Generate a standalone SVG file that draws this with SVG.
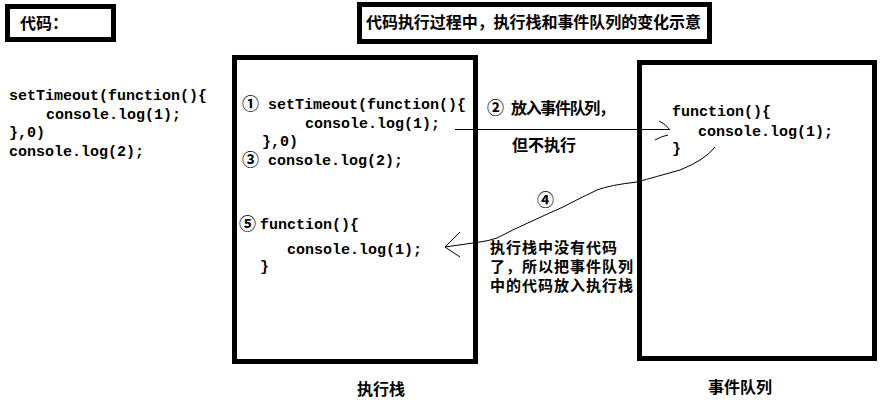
<svg xmlns="http://www.w3.org/2000/svg" width="893" height="410" viewBox="0 0 893 410">
<style>
.box{fill:none;stroke:#000;stroke-width:5}
.code{font-family:"Liberation Mono","Noto Sans CJK SC",monospace;font-size:15px;font-weight:bold;fill:#000}
.cn{font-family:"Noto Sans CJK SC","Noto Sans",sans-serif;font-size:16px;font-weight:bold;fill:#000}
.cn15{font-family:"Noto Sans CJK SC","Noto Sans",sans-serif;font-size:15px;font-weight:bold;fill:#000}
.num{font-family:"Noto Sans CJK SC","DejaVu Sans",sans-serif;font-size:17px;font-weight:bold;fill:#000}
.line{fill:none;stroke:#000;stroke-width:1}
</style>
<rect width="893" height="410" fill="#fff"/>
<g id="code-label">
<rect class="box" x="7.5" y="6.5" width="106" height="33"/>
<text class="cn" x="20" y="29">代码：</text>
</g>
<g id="title">
<rect class="box" x="359.5" y="4.5" width="350" height="37"/>
<text class="cn" x="366" y="28" textLength="335">代码执行过程中，执行栈和事件队列的变化示意</text>
</g>
<g id="source-code">
<text class="code" x="9" y="100">setTimeout(function(){</text>
<text class="code" x="46" y="119">console.log(1);</text>
<text class="code" x="9" y="137">},0)</text>
<text class="code" x="9" y="156">console.log(2);</text>
</g>
<g id="stack">
<rect class="box" x="234.5" y="57.5" width="241" height="304"/>
<text class="num" x="242" y="110">①</text>
<text class="code" x="268" y="109">setTimeout(function(){</text>
<text class="code" x="305" y="128">console.log(1);</text>
<text class="code" x="262" y="146">},0)</text>
<text class="num" x="242" y="166">③</text>
<text class="code" x="268" y="165">console.log(2);</text>
<text class="num" x="239" y="230">⑤</text>
<text class="code" x="260" y="229">function(){</text>
<text class="code" x="287" y="254">console.log(1);</text>
<text class="code" x="260" y="271">}</text>
</g>
<g id="queue">
<rect class="box" x="639.5" y="62.5" width="235" height="296"/>
<text class="code" x="672" y="116">function(){</text>
<text class="code" x="698" y="136">console.log(1);</text>
<text class="code" x="672" y="153">}</text>
</g>
<g id="stack-label"><text class="cn" x="357" y="395">执行栈</text></g>
<g id="queue-label"><text class="cn" x="708" y="393">事件队列</text></g>
<g id="connectors">
<path class="line" d="M455 129.5 H670"/>
<path class="line" d="M659 121 Q666 124 670 130 M655 140 Q662 136 668 135"/>
<path class="line" d="M715 147 Q705 160 680 170 Q655 177 637 182 Q610 185 597 190 Q580 198 563 207 Q545 215 530 222 Q512 230 497 238 Q488 241 480 242 L445 247"/>
<path class="line" d="M460 232 L445 247 L460 257"/>
</g>
<g id="labels">
<text class="num" x="487" y="114">②</text>
<text class="cn" x="511" y="114" textLength="104">放入事件队列，</text>
<text class="cn" x="512" y="151">但不执行</text>
<text class="num" x="537" y="206">④</text>
<text class="cn15" x="490" y="253" textLength="127">执行栈中没有代码</text>
<text class="cn15" x="490" y="272" textLength="143">了，所以把事件队列</text>
<text class="cn15" x="490" y="291" textLength="143">中的代码放入执行栈</text>
</g>
</svg>
